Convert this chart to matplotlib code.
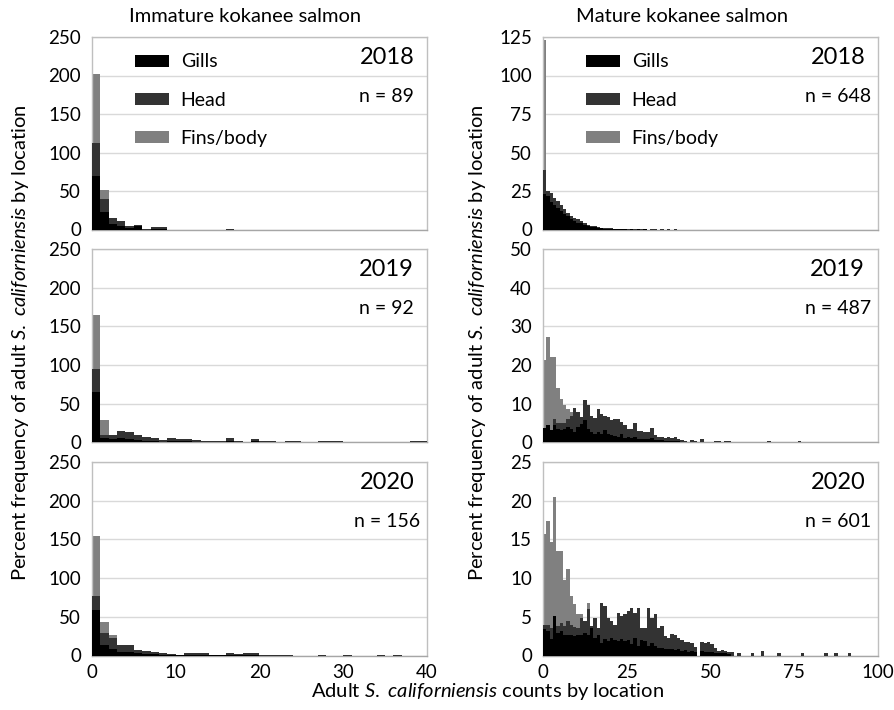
import numpy as np
import matplotlib
matplotlib.use("Agg")
import matplotlib.pyplot as plt

plt.rcParams['font.family'] = ['Lato', 'DejaVu Sans']
plt.rcParams['mathtext.fontset'] = 'custom'
plt.rcParams['mathtext.rm'] = 'Lato'
plt.rcParams['mathtext.it'] = 'Lato:italic'

# ---------------- data (percent frequency by location, bins of width 1) ----------------
locations = ["Gills", "Head", "Fins/body"]
colors = ["#000000", "#333333", "#808080"]
years = ["2018", "2019", "2020"]
n_immature = [89, 92, 156]
n_mature = [648, 487, 601]

imm_gills_2018 = [70, 23, 7, 4, 2, 4, 0, 1, 1]
imm_head_2018 = [112, 39, 14.6, 11, 4, 6, 0.8, 2.6, 2.6, 0, 0, 0, 0, 0, 0, 0, 0.6]
imm_fins_2018 = [202, 51, 5, 3, 1, 2]

imm_gills_2019 = [65, 5.7, 4, 6, 5, 3, 2, 2, 1, 2, 1.5, 1.5, 1, 0.5, 0.5, 0.5, 2, 0.5, 0, 1.5, 0.5, 0.5, 0, 0.8]
imm_head_2019 = [95, 10, 10, 15, 13.5, 9.6, 6.5, 6, 3.5, 6, 4.8, 4.8, 3.5, 1.5, 2, 2, 6, 2.5, 0.5, 4.8,
                 2, 1.5, 0, 2.2, 1.5, 0, 0, 1.5, 1.5, 1.5, 0, 0, 0, 0, 0, 0, 0, 0, 2, 2]
imm_fins_2019 = [164.5, 29.5, 5, 8, 7, 2]

imm_gills_2020 = [58.7, 13.7, 8.2, 5, 5, 3.4, 2, 1.5, 1, 0.5, 0.3, 1, 0.8, 0.8, 0.3, 0.3, 1, 0.5, 0.8, 0.8]
imm_head_2020 = [77, 29.6, 22.3, 13.3, 13.3, 7.7, 5.6, 4.3, 3.4, 2.1, 0.9, 3.4, 2.6, 2.6, 1, 1, 3.4, 2.1, 2.6, 2.6,
                 0.5, 0.5, 0.5, 0.5, 0, 0, 0, 0.5, 0, 0, 0.5, 0, 0, 0, 0.5, 0, 0.5]
imm_fins_2020 = [155, 43.7, 26.6, 6, 5, 3, 2]

mat_gills_2018 = [23, 21.5, 18, 16, 14, 12, 10, 8.5, 6.5, 5.4, 4.5, 3.9, 3, 2.2, 1.8, 1.5, 1.2, 0.8, 0.6, 0.6,
                  0.4, 0.3, 0.3, 0.2, 0.3, 0, 0.2, 0, 0.3, 0, 0.2]
mat_head_2018 = [38.5, 25, 24, 20.5, 18.5, 16, 13.5, 11, 8.7, 7.6, 6.5, 5.4, 4.3, 3, 2.5, 2, 1.6, 1.2, 1, 0.9,
                 0.8, 0.5, 0.6, 0.4, 0.5, 0.3, 0.5, 0.2, 0.4, 0.2, 0.4, 0, 0.3, 0.3, 0, 0.2, 0, 0.2, 0, 0.2]
mat_fins_2018 = [123, 9, 4, 2, 1, 0.5]

mat_gills_2019 = [3.8, 4.4, 3.2, 4.6, 3.6, 3.2, 3.6, 4, 3.4, 2.8, 4, 4.9, 5.7, 3.6, 2.8, 2.3, 2.8, 2.1, 3.2, 2.3,
                  1.9, 1.7, 1.5, 2.1, 1.2, 1.5, 1.2, 1.3, 1, 0.9, 1, 0.8, 1.1, 0.7, 0.6, 0.6, 0.5, 0.4, 0.5, 0.3, 0.3]
mat_head_2019 = [3, 3.5, 3, 6, 5, 5, 5, 6.2, 6.8, 8.9, 7.9, 6.5, 11, 9.6, 6.8, 6.3, 8.7, 7.4, 6.8, 6.5,
                 5.7, 6.1, 6, 5.3, 4.4, 3.6, 3.6, 5, 2.9, 2.9, 2.7, 2.6, 3.8, 1.9, 1.5, 1.5, 1.2, 1.4, 1.2, 1.3,
                 0.8, 0.6, 0.5, 0, 0.6, 0.3, 0, 0.8, 0, 0, 0, 0.4, 0.4, 0, 0.4, 0.4, 0, 0, 0, 0,
                 0, 0, 0, 0, 0, 0, 0, 0.3, 0, 0, 0, 0, 0, 0, 0, 0, 0.3]
mat_fins_2019 = [21.4, 27.3, 22.2, 22.2, 14, 11.3, 9.6, 8.7, 7.9, 6.9, 5.5, 4, 3, 2, 1.5, 1]

mat_gills_2020 = [3.4, 3.2, 2.1, 5.1, 2.9, 3.2, 2.7, 2.6, 2.7, 2.5, 2.7, 2.6, 2.9, 2.7, 3.6, 2.3, 2.7, 1.6, 2.1, 1.9,
                  2.3, 2.0, 1.9, 2.1, 1.9, 2.0, 1.5, 2.3, 1.2, 2.0, 1.9, 1.2, 1.6, 1.2, 1.0, 1.0, 0.8, 0.9, 0.8, 0.7,
                  0.9, 0.6, 0.7, 0.5, 0.6, 0.4, 0, 0.6, 0.5, 0.4, 0.4, 0.3, 0.3, 0.3, 0.3, 0.2]
mat_head_2020 = [4, 4, 3.5, 4.5, 3.8, 4.2, 3.8, 4.5, 4, 3.7, 3.6, 4.9, 4.5, 6, 3.8, 4.9, 3.6, 6.8, 6.4, 4.9,
                 4.5, 3.9, 5.5, 5.1, 5.3, 5.8, 6.2, 5.5, 6.2, 3.6, 3.6, 6.2, 4.9, 5.3, 3.6, 3.8, 2.5, 2.2, 2.8, 2.6,
                 2.2, 2.0, 1.8, 1.8, 1.6, 1.1, 0, 1.7, 1.6, 1.7, 1.5, 1.0, 0.6, 0.7, 0.6, 0.5, 0.4, 0, 0.3, 0,
                 0, 0, 0.3, 0, 0, 0.6, 0, 0, 0, 0, 0.3, 0, 0, 0, 0, 0, 0, 0.3, 0, 0,
                 0, 0, 0, 0, 0.3, 0, 0, 0.3, 0, 0, 0, 0.3]
mat_fins_2020 = [15.7, 17.4, 14.6, 20.5, 13.5, 13.5, 9.7, 11.2, 7.7, 6.6, 5.3, 5.3, 4.3, 6.8, 3, 2, 1.5, 1]

immature = [
    (imm_gills_2018, imm_head_2018, imm_fins_2018),
    (imm_gills_2019, imm_head_2019, imm_fins_2019),
    (imm_gills_2020, imm_head_2020, imm_fins_2020),
]
mature = [
    (mat_gills_2018, mat_head_2018, mat_fins_2018),
    (mat_gills_2019, mat_head_2019, mat_fins_2019),
    (mat_gills_2020, mat_head_2020, mat_fins_2020),
]

imm_xmax, imm_xticks = 40, [0, 10, 20, 30, 40]
mat_xmax, mat_xticks = 100, [0, 25, 50, 75, 100]
imm_yticks = [[0, 50, 100, 150, 200, 250]] * 3
mat_yticks = [[0, 25, 50, 75, 100, 125], [0, 10, 20, 30, 40, 50], [0, 5, 10, 15, 20, 25]]

# ---------------- layout ----------------
W, H = 895, 710
fig = plt.figure(figsize=(W / 100, H / 100), dpi=100)

col_x = [92, 543]
col_w = 335
rows = [(37, 229.5), (249, 442.5), (462, 655.5)]

GRID = "#d9d9d9"
FRAME = "#bfbfbf"


def draw_panel(ax, series, xmax, xticks, yticks, year, n, legend):
    # draw back to front: fins, head, gills (overlapping bars)
    handles = [None] * 3
    for idx in [2, 1, 0]:
        vals = np.zeros(xmax)
        v = np.asarray(series[idx], dtype=float)
        vals[:len(v)] = v
        bins = np.arange(xmax)
        bc = ax.bar(bins, vals, width=1.0, align='edge', color=colors[idx],
                    linewidth=0, zorder=2 + (2 - idx))
        handles[idx] = bc
    ax.set_xlim(0, xmax)
    ax.set_ylim(yticks[0], yticks[-1])
    ax.set_yticks(yticks)
    ax.set_xticks(xticks)
    ax.yaxis.grid(True, color=GRID, linewidth=1.0, zorder=0)
    ax.set_axisbelow(True)
    ax.tick_params(axis='both', length=0, labelsize=13.5, colors="#000000")
    ax.tick_params(axis='y', pad=8)
    ax.tick_params(axis='x', pad=6)
    for s in ax.spines.values():
        s.set_color(FRAME)
        s.set_linewidth(1.0)
    ax.spines['bottom'].set_color("#a6a6a6")
    ax.text(0.88, 0.895, year, transform=ax.transAxes, ha='center', va='center', fontsize=17)
    ax.text(0.88, 0.69, f"n = {n}", transform=ax.transAxes, ha='center', va='center', fontsize=14)
    if legend:
        ax.legend(handles, locations, loc='upper left', bbox_to_anchor=(0.105, 0.955),
                  frameon=False, fontsize=14, handlelength=1.75, handleheight=0.57,
                  labelspacing=1.1, handletextpad=0.6, borderaxespad=0)


for c, (data, xmax, xticks, yt_list, ns) in enumerate([
        (immature, imm_xmax, imm_xticks, imm_yticks, n_immature),
        (mature, mat_xmax, mat_xticks, mat_yticks, n_mature)]):
    for r in range(3):
        top, bot = rows[r]
        ax = fig.add_axes([col_x[c] / W, 1 - bot / H, col_w / W, (bot - top) / H])
        draw_panel(ax, data[r], xmax, xticks, yt_list[r], years[r], ns[r], legend=(r == 0))
        if r < 2:
            ax.set_xticklabels([])

fig.text(245 / W, 1 - 17 / H, "Immature kokanee salmon", ha='center', va='center', fontsize=14.5)
fig.text(682 / W, 1 - 17 / H, "Mature kokanee salmon", ha='center', va='center', fontsize=14.5)

ylab = r"Percent frequency of adult $\it{S.\ californiensis}$ by location"
fig.text(21 / W, 1 - 343 / H, ylab, rotation=90, ha='center', va='center', fontsize=14.5)
fig.text(477 / W, 1 - 343 / H, ylab, rotation=90, ha='center', va='center', fontsize=14.5)
fig.text(487 / W, 1 - 691 / H, r"Adult $\it{S.\ californiensis}$ counts by location",
         ha='center', va='center', fontsize=14.5)

fig.savefig("out.png", dpi=100, facecolor="white")
